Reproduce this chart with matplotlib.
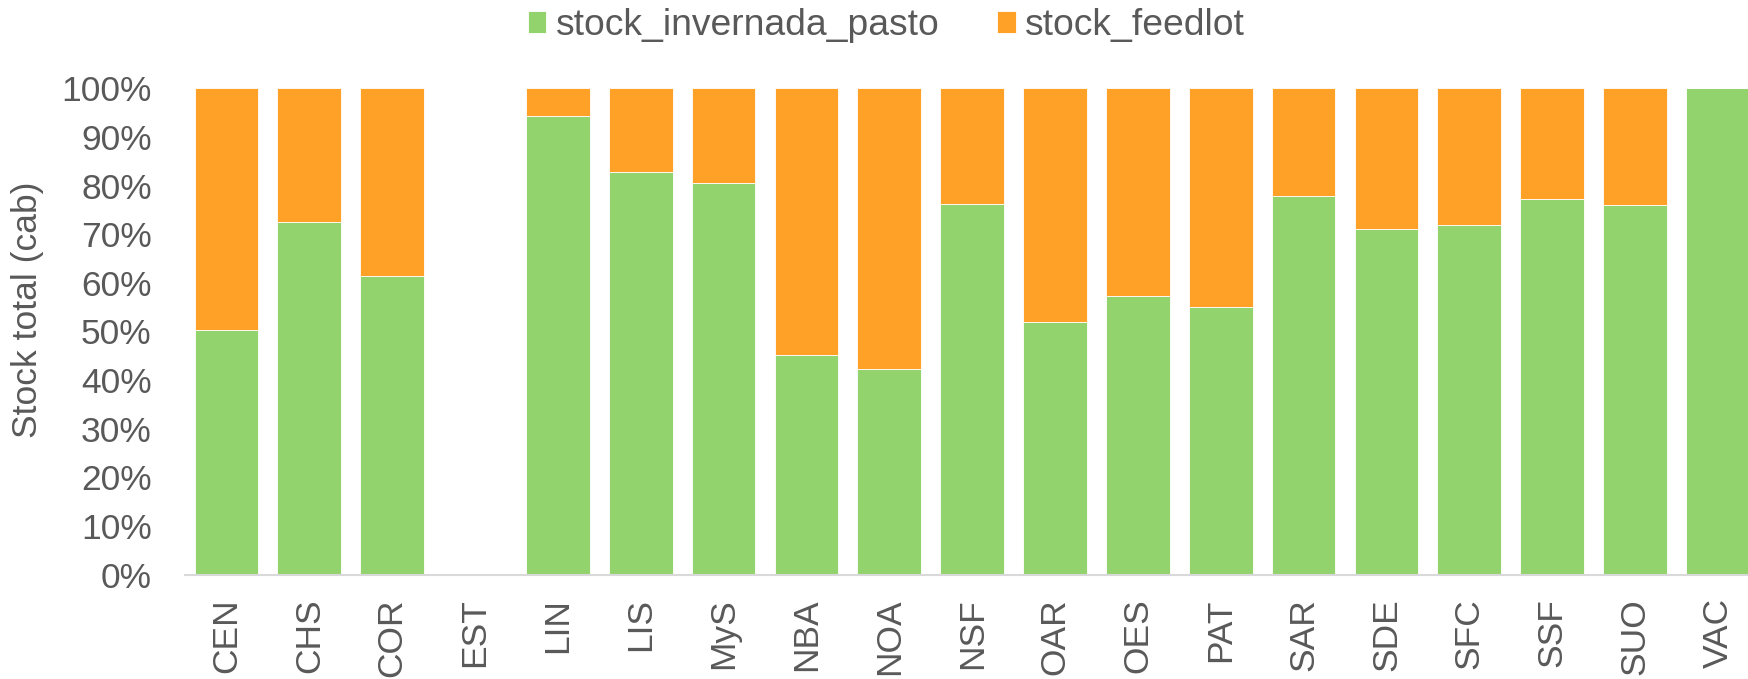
import matplotlib.pyplot as plt
import numpy as np

plt.rcParams['font.family'] = ['Liberation Sans', 'DejaVu Sans']

regions = ['CEN', 'CHS', 'COR', 'EST', 'LIN', 'LIS', 'MyS', 'NBA', 'NOA', 'NSF',
           'OAR', 'OES', 'PAT', 'SAR', 'SDE', 'SFC', 'SSF', 'SUO', 'VAC']
# share of stock on pasture (invernada) per region, EST has no data
pasto = [0.502, 0.726, 0.613, 0.0, 0.942, 0.827, 0.806, 0.451, 0.423, 0.762,
         0.520, 0.572, 0.550, 0.779, 0.710, 0.718, 0.772, 0.759, 1.0]
feedlot = [0.0 if r == 'EST' else 1 - p for r, p in zip(regions, pasto)]

green = '#92D36E'
orange = '#FFA126'
grey = '#595959'

fig = plt.figure(figsize=(17.48, 6.79), dpi=100)
ax = fig.add_axes([185 / 1748, 1 - 574.5 / 679, 1 - 185 / 1748, (574.5 - 88.3) / 679])

x = np.arange(len(regions))
b1 = ax.bar(x, pasto, width=0.77, color=green, edgecolor='white', linewidth=0.6,
            label='stock_invernada_pasto')
b2 = ax.bar(x, feedlot, width=0.77, bottom=pasto, color=orange, edgecolor='white',
            linewidth=0.6, label='stock_feedlot')

ax.set_xlim(-0.5, (1748 - 226.2) / 82.87)
ax.set_ylim(0, 1)
ax.set_yticks(np.arange(0, 1.01, 0.1))
ax.set_yticklabels([f'{int(round(v * 100))}%' for v in np.arange(0, 1.01, 0.1)])
ax.set_xticks(x)
ax.set_xticklabels(regions, rotation=90)
ax.tick_params(axis='both', length=0, labelsize=25.5, labelcolor=grey)
ax.tick_params(axis='y', pad=24)
ax.tick_params(axis='x', pad=17)

for s in ['top', 'right', 'left']:
    ax.spines[s].set_visible(False)
ax.spines['bottom'].set_color('#D9D9D9')
ax.spines['bottom'].set_linewidth(1.5)

fig.text(28 / 1748, 1 - 310 / 679, 'Stock total (cab)', rotation=90, fontsize=25.5,
         color=grey, ha='center', va='center')

fig.legend(handles=[b1, b2], loc='center', bbox_to_anchor=(0.507, 0.962), ncol=2,
           frameon=False, fontsize=26.8, handlelength=0.5, handleheight=0.5,
           handletextpad=0.25, columnspacing=1.55, labelcolor=grey)

fig.savefig('out.png', dpi=100)
